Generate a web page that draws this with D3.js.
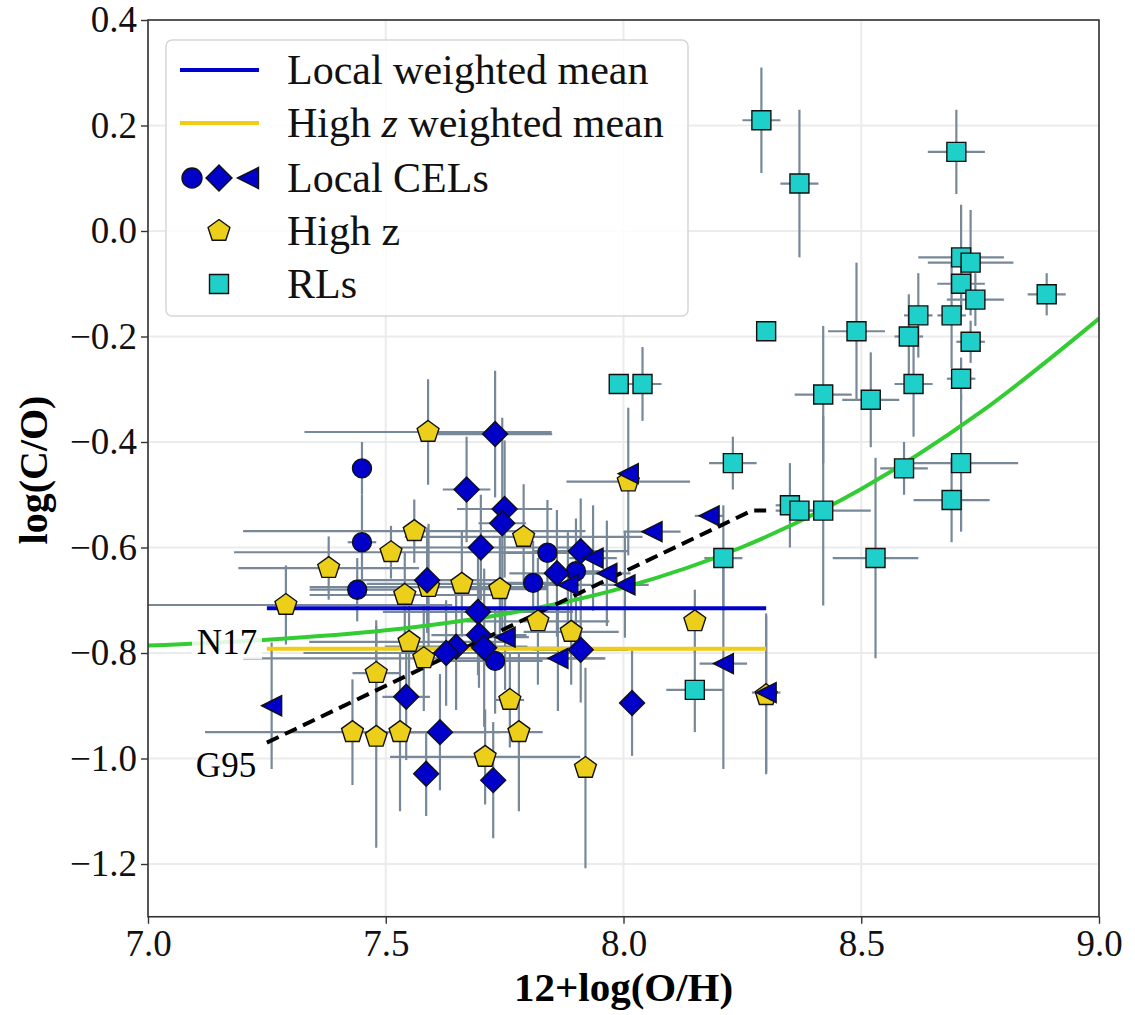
<!DOCTYPE html>
<html>
<head>
<meta charset="utf-8">
<script src="https://cdn.jsdelivr.net/npm/d3@7"></script>
<style>
  body { margin: 0; background: #fff; }
  text { font-family: "Liberation Serif", "DejaVu Serif", serif; }
</style>
</head>
<body>
<svg id="chart" width="1135" height="1015"></svg>
<script>
// ---- data: [12+log(O/H), log(C/O), xerr, yerr] ----
var localCircles = [
  [7.45, -0.45, 0.00, 0.05], [7.45, -0.59, 0.03, 0.09], [7.44, -0.68, 0.10, 0.06],
  [7.84, -0.61, 0.10, 0.10], [7.90, -0.645, 0.05, 0.10], [7.81, -0.667, 0.06, 0.08],
  [7.73, -0.815, 0.10, 0.10]
];
var localDiamonds = [
  [7.73, -0.385, 0.12, 0.12], [7.67, -0.49, 0.05, 0.10], [7.75, -0.527, 0.10, 0.13],
  [7.745, -0.554, 0.05, 0.20], [7.70, -0.60, 0.20, 0.10], [7.91, -0.607, 0.10, 0.10],
  [7.86, -0.649, 0.10, 0.12], [7.587, -0.662, 0.15, 0.10], [7.694, -0.722, 0.20, 0.12],
  [7.696, -0.766, 0.10, 0.10], [7.648, -0.788, 0.15, 0.12], [7.627, -0.80, 0.30, 0.10],
  [7.707, -0.79, 0.20, 0.15], [7.91, -0.794, 0.10, 0.10], [7.543, -0.883, 0.05, 0.12],
  [8.018, -0.895, 0.00, 0.10], [7.614, -0.95, 0.10, 0.11], [7.585, -1.029, 0.00, 0.08],
  [7.726, -1.041, 0.00, 0.11]
];
var localTriangles = [
  [7.26, -0.90, 0.00, 0.12], [8.01, -0.46, 0.00, 0.00], [8.06, -0.57, 0.06, 0.00],
  [8.18, -0.54, 0.03, 0.00], [7.936, -0.62, 0.05, 0.10], [7.965, -0.649, 0.05, 0.10],
  [8.003, -0.671, 0.05, 0.10], [7.883, -0.671, 0.05, 0.10], [7.751, -0.77, 0.05, 0.10],
  [7.862, -0.81, 0.10, 0.10], [8.21, -0.82, 0.05, 0.20], [8.30, -0.875, 0.03, 0.15]
];
var highZ = [
  [7.589, -0.381, 0.26, 0.10], [7.29, -0.709, 0.35, 0.075], [7.38, -0.639, 0.19, 0.06],
  [7.511, -0.609, 0.33, 0.05], [7.56, -0.569, 0.36, 0.06], [7.54, -0.69, 0.20, 0.08],
  [7.66, -0.669, 0.20, 0.10], [7.59, -0.675, 0.25, 0.12], [7.74, -0.679, 0.10, 0.10],
  [7.79, -0.58, 0.25, 0.10], [7.82, -0.74, 0.15, 0.12], [7.89, -0.76, 0.10, 0.10],
  [7.549, -0.779, 0.21, 0.10], [7.58, -0.81, 0.38, 0.10], [7.48, -0.838, 0.05, 0.10],
  [7.761, -0.889, 0.03, 0.09], [7.43, -0.95, 0.31, 0.10], [7.48, -0.959, 0.00, 0.21],
  [7.53, -0.95, 0.05, 0.15], [7.709, -0.997, 0.20, 0.09], [8.15, -0.74, 0.00, 0.06],
  [7.78, -0.95, 0.05, 0.15], [7.92, -1.018, 0.00, 0.19], [8.30, -0.88, 0.00, 0.15],
  [8.01, -0.475, 0.13, 0.14]
];
var recombLines = [
  [8.29, 0.21, 0.04, 0.10], [8.37, 0.09, 0.04, 0.14], [8.70, 0.15, 0.06, 0.08],
  [8.89, -0.12, 0.04, 0.04], [8.71, -0.05, 0.09, 0.10], [8.73, -0.06, 0.09, 0.10],
  [8.71, -0.10, 0.05, 0.05], [8.74, -0.13, 0.06, 0.05], [8.62, -0.16, 0.03, 0.08],
  [8.69, -0.16, 0.03, 0.10], [8.73, -0.21, 0.03, 0.04], [8.60, -0.20, 0.03, 0.08],
  [8.49, -0.19, 0.06, 0.13], [8.30, -0.19, 0.00, 0.00], [8.52, -0.32, 0.06, 0.09],
  [8.42, -0.31, 0.06, 0.13], [8.61, -0.29, 0.04, 0.10], [8.71, -0.28, 0.03, 0.04],
  [7.99, -0.29, 0.00, 0.00], [8.04, -0.29, 0.04, 0.07], [8.23, -0.44, 0.05, 0.05],
  [8.71, -0.44, 0.12, 0.13], [8.59, -0.45, 0.05, 0.05], [8.69, -0.51, 0.08, 0.08],
  [8.35, -0.52, 0.03, 0.08], [8.37, -0.53, 0.03, 0.00], [8.42, -0.53, 0.10, 0.18],
  [8.21, -0.62, 0.04, 0.10], [8.53, -0.62, 0.09, 0.19], [8.15, -0.87, 0.06, 0.08]
];

// weighted means over the range they were drawn
var meanRange = [7.25, 8.30];
var localMean = -0.715;
var highZMean = -0.792;

// N17 relation (green) and G95 fit (dashed)
var n17X = [7.0, 7.25, 7.5, 7.75, 8.0, 8.25, 8.5, 8.75, 9.0];
var n17Y = [-0.786, -0.775, -0.757, -0.726, -0.676, -0.599, -0.489, -0.344, -0.166];
var g95X = [7.25, 8.27, 8.30];
var g95Y = [-0.97, -0.53, -0.53];

var xTicks = [7.0, 7.5, 8.0, 8.5, 9.0];
var yTicks = [-1.2, -1.0, -0.8, -0.6, -0.4, -0.2, 0.0, 0.2, 0.4];

// ---- scales ----
var plotL = 148, plotR = 1099, plotT = 20, plotB = 916.75;
var x = d3.scaleLinear().domain([7, 9]).range([plotL, plotR]);
var y = d3.scaleLinear().domain([-1.3, 0.4]).range([plotB, plotT]);

var svg = d3.select("#chart");

var blue = "#0000c8", gold = "#eccf1a", cyan = "#1fcfc9", errCol = "#778899";

svg.append("clipPath").attr("id", "clip")
  .append("rect").attr("x", plotL).attr("y", plotT).attr("width", plotR - plotL).attr("height", plotB - plotT);

// gridlines
var grid = svg.append("g");
grid.selectAll(".gx").data(xTicks).enter().append("line")
  .attr("x1", function(d) { return x(d); }).attr("x2", function(d) { return x(d); })
  .attr("y1", plotT).attr("y2", plotB)
  .attr("stroke", "#ebebeb").attr("stroke-width", 2);
grid.selectAll(".gy").data(yTicks).enter().append("line")
  .attr("y1", function(d) { return y(d); }).attr("y2", function(d) { return y(d); })
  .attr("x1", plotL).attr("x2", plotR)
  .attr("stroke", "#ebebeb").attr("stroke-width", 2);

var plot = svg.append("g").attr("clip-path", "url(#clip)");

// error bars for every series
var allPts = highZ.concat(recombLines, localCircles, localDiamonds, localTriangles);
var bars = plot.append("g").attr("stroke", errCol).attr("stroke-width", 2.2);
bars.selectAll(".ex").data(allPts.filter(function(d) { return d[2] > 0; })).enter().append("line")
  .attr("x1", function(d) { return x(d[0] - d[2]); }).attr("x2", function(d) { return x(d[0] + d[2]); })
  .attr("y1", function(d) { return y(d[1]); }).attr("y2", function(d) { return y(d[1]); });
bars.selectAll(".ey").data(allPts.filter(function(d) { return d[3] > 0; })).enter().append("line")
  .attr("x1", function(d) { return x(d[0]); }).attr("x2", function(d) { return x(d[0]); })
  .attr("y1", function(d) { return y(d[1] - d[3]); }).attr("y2", function(d) { return y(d[1] + d[3]); });

// model lines
var n17Line = d3.line().x(function(d) { return x(d[0]); }).y(function(d) { return y(d[1]); }).curve(d3.curveMonotoneX);
plot.append("path")
  .datum(d3.zip(n17X, n17Y))
  .attr("d", n17Line)
  .attr("fill", "none").attr("stroke", "#33cc33").attr("stroke-width", 4);

plot.append("path")
  .datum(d3.zip(g95X, g95Y))
  .attr("d", d3.line().x(function(d) { return x(d[0]); }).y(function(d) { return y(d[1]); }))
  .attr("fill", "none").attr("stroke", "#000").attr("stroke-width", 4)
  .attr("stroke-dasharray", "13,7");

plot.append("line")
  .attr("x1", x(meanRange[0])).attr("x2", x(meanRange[1]))
  .attr("y1", y(localMean)).attr("y2", y(localMean))
  .attr("stroke", "#0000cc").attr("stroke-width", 4);
plot.append("line")
  .attr("x1", x(meanRange[0])).attr("x2", x(meanRange[1]))
  .attr("y1", y(highZMean)).attr("y2", y(highZMean))
  .attr("stroke", "#f0cd14").attr("stroke-width", 4);

// marker shapes
function polyPath(pts) { return "M" + pts.map(function(p) { return p[0].toFixed(2) + "," + p[1].toFixed(2); }).join("L") + "Z"; }
function pentagon(r) {
  return polyPath(d3.range(5).map(function(k) {
    var a = -Math.PI / 2 + k * 2 * Math.PI / 5;
    return [r * Math.cos(a), r * Math.sin(a)];
  }));
}
function diamond(r) { return polyPath([[0, -r], [r, 0], [0, r], [-r, 0]]); }
function triLeft(r) { return polyPath([[-r, 0], [r, -r], [r, r]]); }
function square(r) { return polyPath([[-r, -r], [r, -r], [r, r], [-r, r]]); }
function circle(r) { return "M" + r + ",0A" + r + "," + r + " 0 1,1 " + (-r) + ",0A" + r + "," + r + " 0 1,1 " + r + ",0Z"; }

function drawMarkers(g, data, path, fill) {
  g.selectAll(null).data(data).enter().append("path")
    .attr("transform", function(d) { return "translate(" + x(d[0]) + "," + y(d[1]) + ")"; })
    .attr("d", path)
    .attr("fill", fill).attr("stroke", "#111").attr("stroke-width", 1.4);
}

var marks = plot.append("g");
drawMarkers(marks, highZ, pentagon(11.5), gold);
drawMarkers(marks, recombLines, square(9.5), cyan);
drawMarkers(marks, localCircles, circle(9.5), blue);
drawMarkers(marks, localDiamonds, diamond(12.5), blue);
drawMarkers(marks, localTriangles, triLeft(10), blue);

// line labels
var n17Label = svg.append("g");
n17Label.append("rect").attr("x", 192).attr("y", 625).attr("width", 70).attr("height", 34)
  .attr("fill", "#fff").attr("fill-opacity", 0.85);
n17Label.append("text").attr("x", 227).attr("y", 654).attr("text-anchor", "middle")
  .attr("font-size", 35).text("N17");
svg.append("text").attr("x", 226).attr("y", 777).attr("text-anchor", "middle")
  .attr("font-size", 35).text("G95");

// axes
var xAxis = svg.append("g").attr("transform", "translate(0," + plotB + ")")
  .call(d3.axisBottom(x).tickValues(xTicks).tickFormat(d3.format(".1f")).tickSize(7).tickPadding(6));
var yAxis = svg.append("g").attr("transform", "translate(" + plotL + ",0)")
  .call(d3.axisLeft(y).tickValues(yTicks).tickFormat(d3.format(".1f")).tickSize(7).tickPadding(4));
[xAxis, yAxis].forEach(function(a) {
  a.select(".domain").remove();
  a.selectAll(".tick line").attr("stroke", "#333").attr("stroke-width", 1.4);
  a.selectAll(".tick text").attr("font-family", "Liberation Serif").attr("font-size", 37).attr("fill", "#111");
});

svg.append("rect").attr("x", plotL).attr("y", plotT).attr("width", plotR - plotL).attr("height", plotB - plotT)
  .attr("fill", "none").attr("stroke", "#333").attr("stroke-width", 1.6);

svg.append("text").attr("x", (plotL + plotR) / 2).attr("y", 1001).attr("text-anchor", "middle")
  .attr("font-size", 41).attr("font-weight", "bold").text("12+log(O/H)");
svg.append("text").attr("transform", "translate(47," + 470 + ") rotate(-90)").attr("text-anchor", "middle")
  .attr("font-size", 40).attr("font-weight", "bold").text("log(C/O)");

// legend
var lg = svg.append("g");
lg.append("rect").attr("x", 166).attr("y", 40).attr("width", 522).attr("height", 276)
  .attr("rx", 6).attr("fill", "#fff").attr("fill-opacity", 0.85)
  .attr("stroke", "#d6d6d6").attr("stroke-width", 1.5);
var rows = [70, 123, 178, 231, 284];
lg.append("line").attr("x1", 180).attr("x2", 259).attr("y1", rows[0]).attr("y2", rows[0])
  .attr("stroke", "#0000cc").attr("stroke-width", 4);
lg.append("line").attr("x1", 180).attr("x2", 259).attr("y1", rows[1]).attr("y2", rows[1])
  .attr("stroke", "#f0cd14").attr("stroke-width", 4);
function legMark(cx, cy, path, fill) {
  lg.append("path").attr("transform", "translate(" + cx + "," + cy + ")").attr("d", path)
    .attr("fill", fill).attr("stroke", "#111").attr("stroke-width", 1.4);
}
legMark(192, rows[2], circle(10), blue);
legMark(219, rows[2], diamond(13), blue);
legMark(248, rows[2], triLeft(10.5), blue);
legMark(219, rows[3], pentagon(11.5), gold);
legMark(219, rows[4], square(9.5), cyan);

var legText = lg.append("g").attr("font-size", 42).attr("fill", "#111");
legText.append("text").attr("x", 287).attr("y", rows[0] + 14).text("Local weighted mean");
var t2 = legText.append("text").attr("x", 287).attr("y", rows[1] + 14);
t2.append("tspan").text("High ");
t2.append("tspan").attr("font-style", "italic").text("z");
t2.append("tspan").text(" weighted mean");
legText.append("text").attr("x", 287).attr("y", rows[2] + 14).text("Local CELs");
legText.append("text").attr("x", 287).attr("y", rows[3] + 14).text("High z");
legText.append("text").attr("x", 287).attr("y", rows[4] + 14).text("RLs");
</script>
</body>
</html>
